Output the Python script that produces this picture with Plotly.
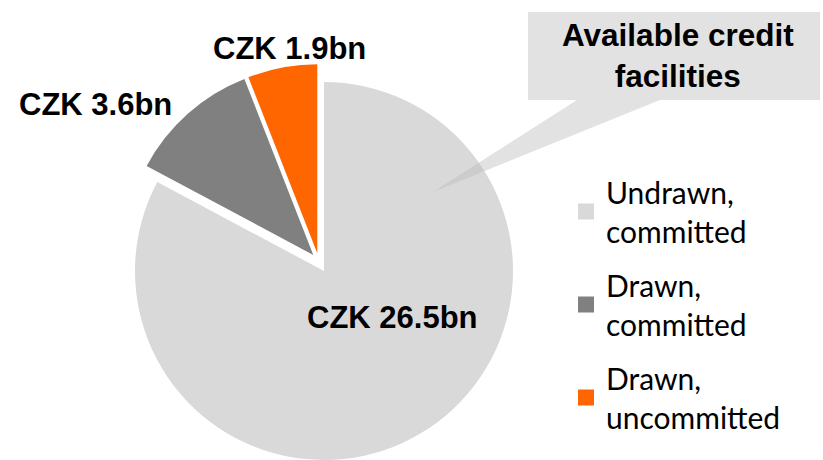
import plotly.graph_objects as go

W, H = 823, 460

# ---- data ----
categories = ["Undrawn, committed", "Drawn, committed", "Drawn, uncommitted"]
legend_labels = ["Undrawn,<br>committed", "Drawn,<br>committed", "Drawn,<br>uncommitted"]
values = [26.5, 3.6, 1.9]  # CZK bn
colors = ["#d9d9d9", "#808080", "#ff6600"]
callout_text = "Available credit<br>facilities"

# ---- layout helpers (pixel -> paper) ----
def px(x):
    return x / W

def py(y):
    return 1 - y / H

R = 189
CX, CY = 324, 271
# explosion offsets (pixels) for each slice
offsets = [(0, 0), (-10.7, -16), (-6.7, -17.7)]

fig = go.Figure()
for i, (dx, dy) in enumerate(offsets):
    cx, cy = CX + dx, CY + dy
    slice_colors = [c if j == i else "rgba(0,0,0,0)" for j, c in enumerate(colors)]
    fig.add_trace(go.Pie(
        labels=categories,
        values=values,
        sort=False,
        direction="clockwise",
        rotation=0,
        marker=dict(colors=slice_colors, line=dict(width=0)),
        textinfo="none",
        hoverinfo="label+value",
        showlegend=False,
        domain=dict(x=[px(cx - R), px(cx + R)], y=[max(0, py(cy + R)), py(cy - R)]),
    ))

# legend entries
for lab, col in zip(legend_labels, colors):
    fig.add_trace(go.Scatter(
        x=[None], y=[None], mode="markers", name=lab, legendgroup=lab,
        marker=dict(symbol="square", size=16, color=col),
    ))

# value labels
label_pos = [(392, 317), (95, 104), (289, 49)]
annotations = []
for v, (x, y) in zip(values, label_pos):
    annotations.append(dict(
        x=px(x), y=py(y), xref="paper", yref="paper",
        text=f"<b>CZK {v}bn</b>", showarrow=False,
        font=dict(family="Liberation Sans, Arial", size=31, color="#000000"),
        xanchor="center", yanchor="middle",
    ))
annotations.append(dict(
    x=px(678), y=py(56), xref="paper", yref="paper",
    text=f"<b>{callout_text}</b>", showarrow=False,
    font=dict(family="Liberation Sans, Arial", size=31.5, color="#000000"),
    xanchor="center", yanchor="middle",
))

# callout box with pointer
pts = [(528, 12), (820, 12), (820, 100), (660, 100), (433, 192), (577, 100), (528, 100)]
path = "M " + " L ".join(f"{px(x):.5f},{py(y):.5f}" for x, y in pts) + " Z"

fig.update_layout(
    width=W, height=H,
    margin=dict(l=0, r=0, t=0, b=0),
    paper_bgcolor="white", plot_bgcolor="white",
    xaxis=dict(visible=False), yaxis=dict(visible=False),
    shapes=[dict(type="path", path=path, xref="paper", yref="paper",
                 fillcolor="rgba(185,185,185,0.42)", line=dict(width=0), layer="above")],
    annotations=annotations,
    legend=dict(
        x=px(566), y=py(166), xanchor="left", yanchor="top",
        font=dict(family="Lato, Open Sans", size=30, color="#000000"),
        tracegroupgap=12, bgcolor="rgba(0,0,0,0)",
    ),
    showlegend=True,
)

fig.write_html("out.html", config={"displayModeBar": False},
               post_script="document.body.style.margin='0';")
